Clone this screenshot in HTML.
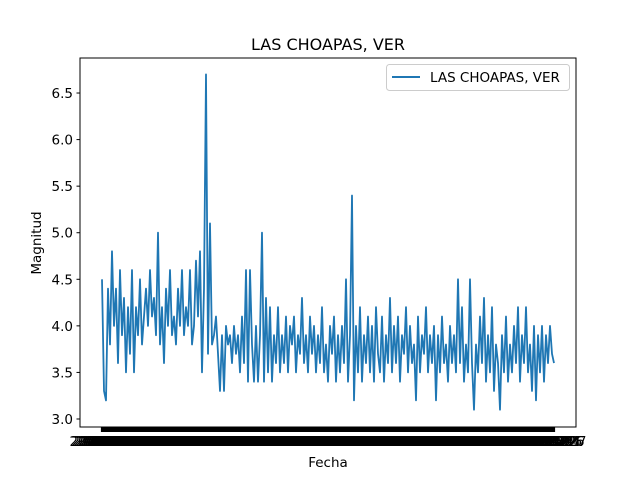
<!DOCTYPE html>
<html><head><meta charset="utf-8"><style>
body{margin:0;background:#fff}
svg{display:block;font-family:"DejaVu Sans","Liberation Sans",sans-serif}
</style></head><body>
<svg id="chart" width="640" height="480">
<rect width="640" height="480" fill="#fff"/>
<text x="328" y="50" font-size="16" text-anchor="middle">LAS CHOAPAS, VER</text>
<g id="yaxis"></g>
<g id="xaxis"></g>
<g id="series"></g>
<rect x="80" y="58" width="496" height="369" fill="none" stroke="#000" stroke-width="1"/>
<text x="328" y="467" font-size="13.5" text-anchor="middle">Fecha</text>
<text x="41" y="243" font-size="13.5" text-anchor="middle" transform="rotate(-90 41 243)">Magnitud</text>
<g>
<rect x="386.5" y="64.5" width="183" height="26" rx="3" fill="#fff" fill-opacity="0.8" stroke="#ccc"/>
<line x1="392" y1="77" x2="420" y2="77" stroke="#1f77b4" stroke-width="2"/>
<text x="430" y="82" font-size="13.5">LAS CHOAPAS, VER</text>
</g>
</svg>
<script>
const values = [4.5,3.3,3.2,4.4,
3.8,4.8,4.0,4.4,3.6,4.6,3.9,4.3,3.5,4.2,3.7,4.6,3.5,4.2,3.9,4.5,3.8,4.1,4.4,4.0,4.6,4.1,4.3,3.9,5.0,
3.8,4.2,3.6,4.4,4.0,4.6,3.9,4.1,3.8,4.4,4.0,4.6,3.9,4.2,4.0,4.6,3.8,4.0,4.7,4.1,4.8,3.5,4.4,
6.7,3.7,5.1,3.8,
3.9,4.1,3.7,3.3,3.9,3.3,4.0,3.8,3.9,3.6,4.0,3.7,3.9,3.5,4.1,3.6,4.6,3.4,4.6,3.8,3.4,4.0,3.4,3.9,
5.0,
3.4,4.3,3.5,4.2,3.4,3.9,3.6,4.2,3.5,3.9,3.6,4.1,3.5,4.0,3.8,4.1,3.5,3.9,3.7,4.3,3.6,3.9,3.5,4.1,3.7,4.0,3.5,3.9,3.6,4.2,3.5,3.8,3.4,4.0,3.7,4.1,3.4,3.9,3.5,4.0,3.6,
4.5,3.4,3.9,5.4,3.2,
4.0,3.5,4.2,3.4,3.9,3.6,4.1,3.5,4.0,3.4,4.2,3.7,3.5,4.1,3.4,3.9,3.6,4.3,3.5,4.0,3.6,4.1,3.4,3.9,3.7,4.2,3.5,4.0,3.6,3.8,3.2,4.1,3.5,3.9,3.7,4.2,3.5,3.9,3.6,4.0,3.2,3.9,3.5,4.1,3.6,3.8,3.4,4.0,
3.6,3.9,3.5,4.5,3.6,4.2,3.4,3.8,3.5,4.5,3.6,3.1,3.8,3.5,4.1,3.6,4.3,3.4,3.9,3.5,4.2,3.3,3.8,3.6,3.1,3.9,3.5,4.1,3.4,3.8,3.5,4.0,3.6,4.2,3.4,3.9,3.6,4.2,3.5,3.8,3.3,4.0,3.2,3.9,3.5,4.0,3.4,3.9,3.6,4.0,3.7,3.6];
const yTicks = [3.0,3.5,4.0,4.5,5.0,5.5,6.0,6.5];
const yTickLabels = ["3.0","3.5","4.0","4.5","5.0","5.5","6.0","6.5"];
const categories = values.map((v,i)=>"2020-"+String(i+1).padStart(3,"0"));

const NS="http://www.w3.org/2000/svg";
const yMin=2.914, yMax=6.876, plotTop=58, plotBottom=427;
function yScale(v){return plotBottom-(v-yMin)/(yMax-yMin)*(plotBottom-plotTop);}
function xScale(i){return 102+i*(554-102)/(categories.length-1);}
function mk(tag,attrs,parent){const e=document.createElementNS(NS,tag);for(const k in attrs)e.setAttribute(k,attrs[k]);parent.appendChild(e);return e;}

const ya=document.getElementById('yaxis');
yTicks.forEach((t,i)=>{
  const y=yScale(t);
  const l=mk('line',{x1:76.5,x2:80,y1:y,y2:y,stroke:'#000'},ya);
  
  
  const tx=mk('text',{x:73,y:y+5,'font-size':13.5,'text-anchor':'end'},ya);
  tx.textContent=yTickLabels[i];
  
  
});
const xa=document.getElementById('xaxis');
categories.forEach((c,i)=>{
  const x=xScale(i);
  const l=mk('line',{x1:x,x2:x,y1:427,y2:432,stroke:'#000','stroke-width':2.2},xa);
  
  
  const tx=mk('text',{x:x,y:446,'font-size':13.5,'text-anchor':'middle'},xa);
  tx.textContent=c;
  
  
});
const s=document.getElementById('series');
const pts=values.map((v,i)=>xScale(i).toFixed(1)+","+yScale(v).toFixed(1)).join(" ");
const pl=mk('polyline',{points:pts,fill:'none',stroke:'#1f77b4','stroke-width':1.8,'stroke-linejoin':'round'},s);


</script>
</body></html>
